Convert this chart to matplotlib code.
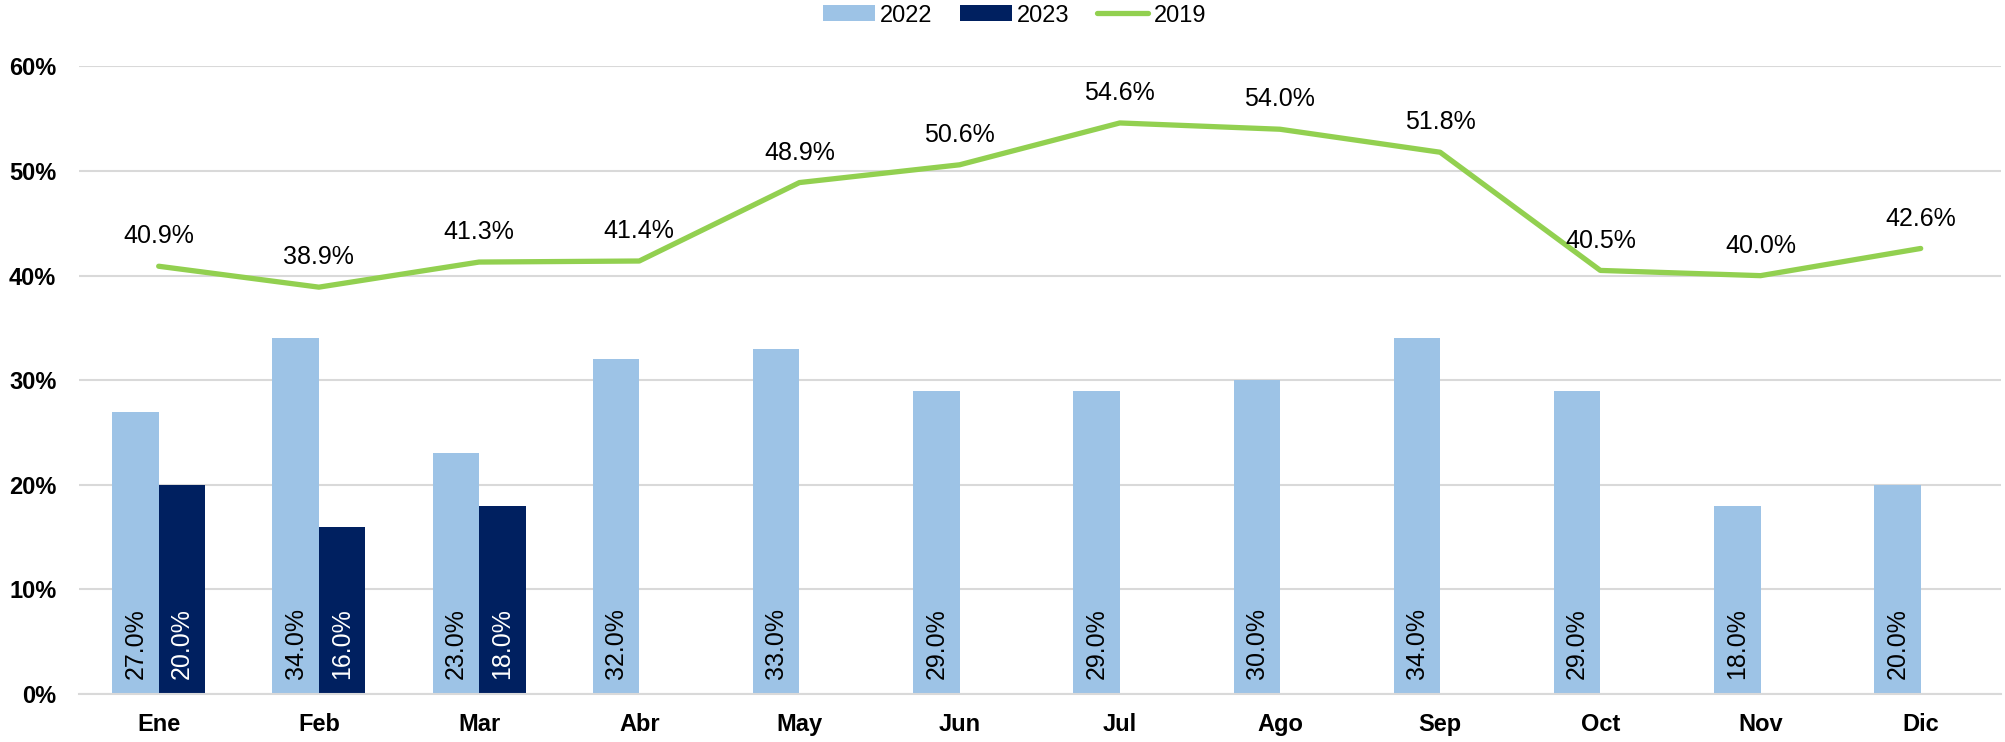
import matplotlib
matplotlib.use("Agg")
import matplotlib.pyplot as plt
import numpy as np

months = ["Ene", "Feb", "Mar", "Abr", "May", "Jun", "Jul", "Ago", "Sep", "Oct", "Nov", "Dic"]
s2022 = [27.0, 34.0, 23.0, 32.0, 33.0, 29.0, 29.0, 30.0, 34.0, 29.0, 18.0, 20.0]
s2023 = [20.0, 16.0, 18.0, None, None, None, None, None, None, None, None, None]
s2019 = [40.9, 38.9, 41.3, 41.4, 48.9, 50.6, 54.6, 54.0, 51.8, 40.5, 40.0, 42.6]
yticks = [0, 10, 20, 30, 40, 50, 60]

plt.rcParams['font.family'] = ['Liberation Sans', 'DejaVu Sans']

c22 = "#9DC3E6"
c23 = "#002060"
c19 = "#92D050"

fig = plt.figure(figsize=(20.05, 7.42), dpi=100)
ax = fig.add_axes([0.0392, 0.0647, 0.9587, 0.8457])

x = np.arange(len(months))
w = 0.29
v22 = np.array(s2022, dtype=float) / 100
v23 = np.array([np.nan if v is None else v for v in s2023], dtype=float) / 100
v19 = np.array(s2019, dtype=float) / 100

b1 = ax.bar(x - w / 2, v22, w, color=c22, label="2022", zorder=2)
m23 = ~np.isnan(v23)
b2 = ax.bar(x[m23] + w / 2, v23[m23], w, color=c23, label="2023", zorder=2)
ln, = ax.plot(x, v19, color=c19, lw=3.8, label="2019", zorder=3, solid_capstyle='round')

for xi, v in zip(x, v22):
    ax.annotate(f"{v*100:.1f}%", (xi - w / 2, 0), xytext=(0, 11), textcoords="offset points",
                rotation=90, ha="center", va="bottom", fontsize=18, color="black", zorder=4)
for xi, v in zip(x[m23], v23[m23]):
    ax.annotate(f"{v*100:.1f}%", (xi + w / 2, 0), xytext=(0, 11), textcoords="offset points",
                rotation=90, ha="center", va="bottom", fontsize=18, color="white", zorder=4)
for xi, v in zip(x, v19):
    ax.annotate(f"{v*100:.1f}%", (xi, v), xytext=(0, 16.5), textcoords="offset points",
                ha="center", va="baseline", fontsize=18, color="black", zorder=4)

ax.set_xlim(-0.5, len(months) - 0.5)
ax.set_ylim(0, 0.6)
ax.set_yticks([t / 100 for t in yticks])
ax.set_yticklabels([f"{t}%" for t in yticks], fontsize=17, fontweight="bold")
ax.set_xticks(x)
ax.set_xticklabels(months, fontsize=17, fontweight="bold")
ax.tick_params(axis="both", length=0)
ax.tick_params(axis="y", pad=16)
ax.tick_params(axis="x", pad=14)
ax.grid(axis="y", color="#D9D9D9", lw=1.5, zorder=0)
ax.set_axisbelow(True)
for s in ["top", "right", "left"]:
    ax.spines[s].set_visible(False)
ax.spines["bottom"].set_color("#D9D9D9")
ax.spines["bottom"].set_linewidth(1.5)

fig.legend(handles=[b1, b2, ln], labels=["2022", "2023", "2019"], loc="center",
           bbox_to_anchor=(0.506, 0.979), ncol=3, frameon=False, fontsize=17,
           handlelength=2.2, handleheight=0.65, handletextpad=0.22, columnspacing=1.15,
           borderaxespad=0, borderpad=0)

fig.savefig("out.png", dpi=100)
